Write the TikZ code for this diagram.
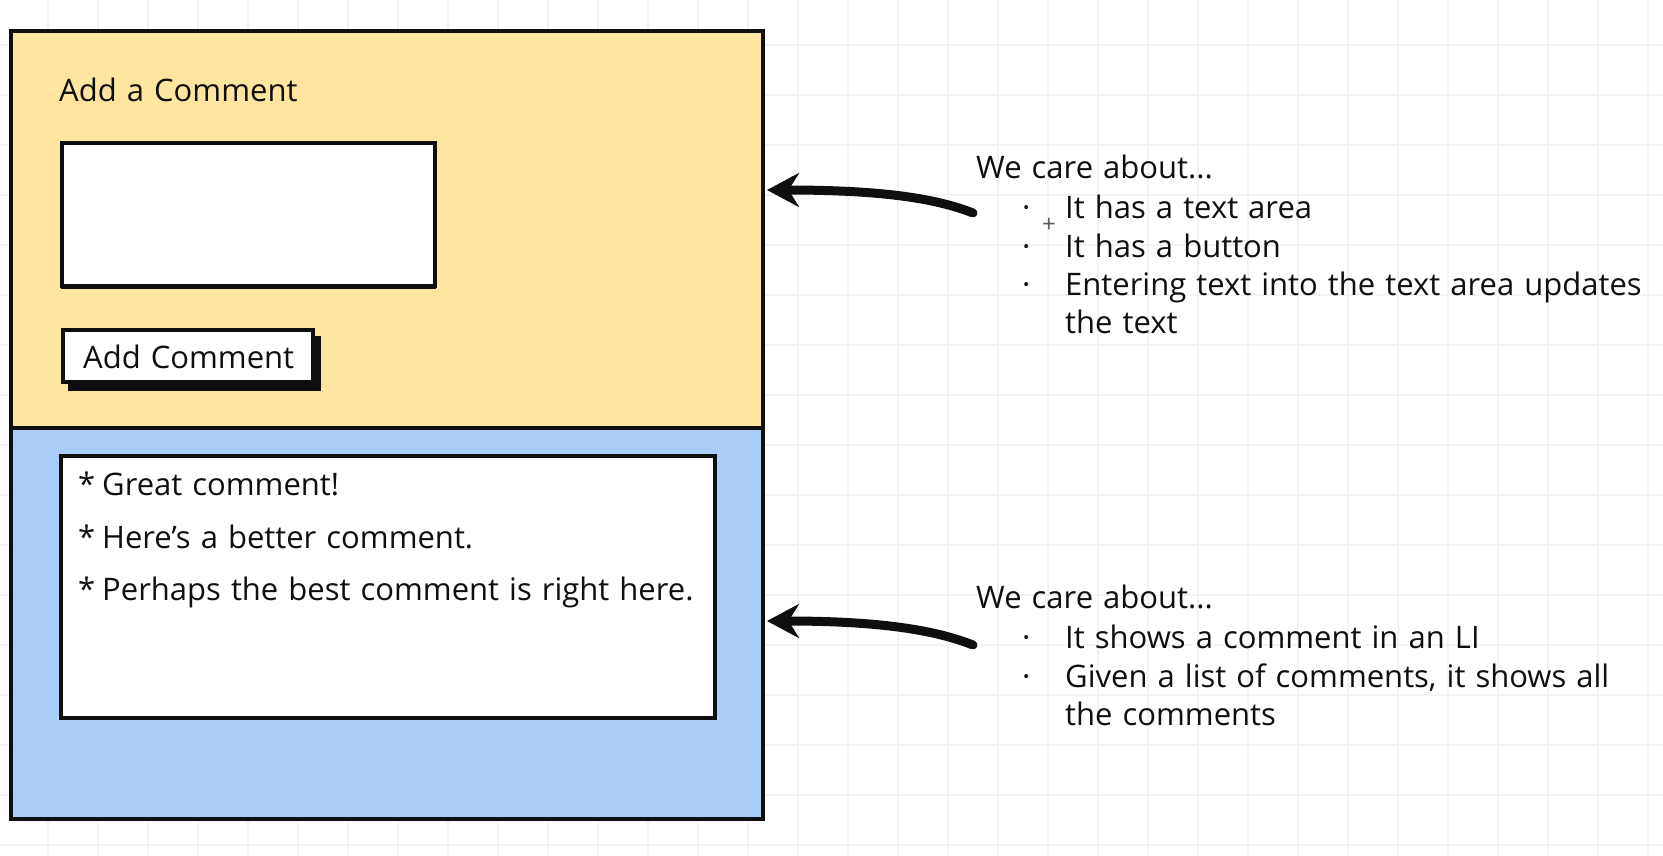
\documentclass[tikz,border=0pt]{standalone}
\usepackage{fontspec}
\setmainfont{Open Sans}[WordSpace=1.25]
\usetikzlibrary{arrows.meta}
\definecolor{formyellow}{RGB}{255,229,160}
\definecolor{listblue}{RGB}{171,205,250}
\definecolor{gridgray}{RGB}{243,243,243}
\definecolor{ink}{RGB}{15,15,15}
\tikzset{
  panel/.style={draw=ink, line width=4pt, anchor=north west, inner sep=0pt},
  field/.style={draw=ink, line width=4pt, fill=white, anchor=north west, inner sep=0pt},
  shade/.style={fill=ink, anchor=north west, inner sep=0pt},
  sketchtext/.style={anchor=base west, inner sep=0pt, text=ink, font=\fontsize{31}{36}\selectfont},
  marker/.style={draw=ink, line width=9pt, line cap=round, -{Stealth[length=32pt,width=34pt]}},
  gridline/.style={gridgray, line width=1.5pt}
}

\begin{document}
\begin{tikzpicture}[x=1pt,y=-1pt]
    \useasboundingbox (0,0) rectangle (1663,855);
    \fill[white] (0,0) rectangle (1663,855);
    % paper grid
    \foreach \gx in {48,98,...,1648} \draw[gridline] (\gx,0) -- (\gx,855);
    \foreach \gy in {45,95,...,845} \draw[gridline] (0,\gy) -- (1663,\gy);

    % panels
    \node[panel, fill=formyellow, minimum width=752pt, minimum height=397pt] (form) at (9,29) {};
    \node[panel, fill=listblue, minimum width=752pt, minimum height=391pt] (list) at (9,426) {};

    % comment box
    \node[sketchtext] (title) at (59,101) {Add a Comment};
    \node[shade, minimum width=375pt, minimum height=146pt] (areashade) at (61,143) {};
    \node[field, minimum width=373pt, minimum height=143pt] (textarea) at (60,141) {};
    \node[shade, minimum width=253pt, minimum height=55pt] (buttonshade) at (68,336) {};
    \node[field, minimum width=250pt, minimum height=52pt] (button) at (61,328) {};
    \node[sketchtext] (buttontext) at (83,368) {Add Comment};

    % comment list
    \node[field, minimum width=654pt, minimum height=262pt] (comments) at (59,454) {};
    \node[sketchtext] (star1) at (78,495) {*};
    \node[sketchtext] (item1) at (102,495) {Great comment!};
    \node[sketchtext] (star2) at (78,548) {*};
    \node[sketchtext] (item2) at (102,548) {Here's a better comment.};
    \node[sketchtext] (star3) at (78,600) {*};
    \node[sketchtext] (item3) at (102,600) {Perhaps the best comment is right here.};

    % notes for the box
    \node[sketchtext] (care1) at (976,178) {We care about...};
    \node[sketchtext] (dot1a) at (1022,218) {·};
    \node[sketchtext] (note1a) at (1065,218) {It has a text area};
    \node[sketchtext] (dot1b) at (1022,257) {·};
    \node[sketchtext] (note1b) at (1065,257) {It has a button};
    \node[sketchtext] (dot1c) at (1022,295) {·};
    \node[sketchtext] (note1c) at (1065,295) {Entering text into the text area updates};
    \node[sketchtext] (note1d) at (1065,333) {the text};
    \node[text=gray!70!black, font=\fontsize{24}{24}\selectfont, inner sep=0pt] (cursor) at (1049,225) {+};

    % notes for the list
    \node[sketchtext] (care2) at (976,608) {We care about...};
    \node[sketchtext] (dot2a) at (1022,648) {·};
    \node[sketchtext] (note2a) at (1065,648) {It shows a comment in an LI};
    \node[sketchtext] (dot2b) at (1022,687) {·};
    \node[sketchtext] (note2b) at (1065,687) {Given a list of comments, it shows all};
    \node[sketchtext] (note2c) at (1065,725) {the comments};

    % arrows
    \coordinate (tail1) at (973,213);
    \coordinate (tip1) at (767,190);
    \coordinate (tail2) at (973,645);
    \coordinate (tip2) at (767,621);
    \draw[marker] (tail1) .. controls (935,198) and (880,190) .. (tip1);
    \draw[marker] (tail2) .. controls (935,630) and (880,621) .. (tip2);
\end{tikzpicture}
\end{document}
